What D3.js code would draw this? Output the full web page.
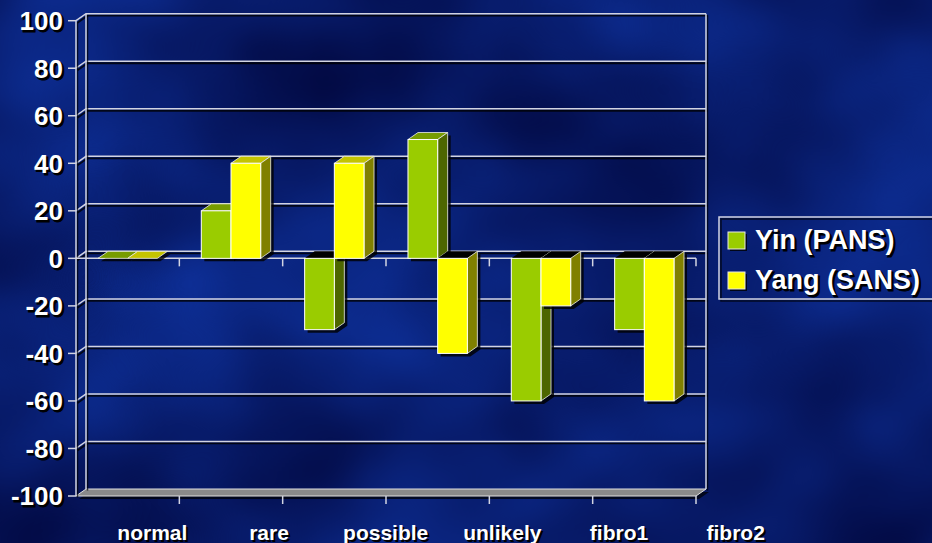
<!DOCTYPE html>
<html>
<head>
<meta charset="utf-8">
<script src="https://cdn.jsdelivr.net/npm/d3@7"></script>
<style>
  html, body { margin: 0; padding: 0; background: #0a1c6c; }
  svg { display: block; }
  text { font-family: "Liberation Sans", Arial, sans-serif; font-weight: bold; }
</style>
</head>
<body>
<div id="chart"></div>
<script>
// Chart data
const categories = ['normal', 'rare', 'possible', 'unlikely', 'fibro1', 'fibro2']
const seriesNames = ['Yin (PANS)', 'Yang (SANS)']
const yinValues = [0, 20, -30, 50, -60, -30]
const yangValues = [0, 40, 40, -40, -20, -60]
const yTicks = [100, 80, 60, 40, 20, 0, -20, -40, -60, -80, -100]

const width = 932
const height = 543
const depth = {dx: 10, dy: -7}

const style = {
  front: ['#9acc00', '#ffff00'],
  side: ['#4d6600', '#808000'],
  top: ['#779c00', '#c4c400'],
  grid: '#d2d4e2',
  text: '#ffffff'
}

const svg = d3.select('#chart')
  .append('svg')
  .attr('width', width)
  .attr('height', height)

// Cloudy blue background
const defs = svg.append('defs')
const cloud = defs.append('filter')
  .attr('id', 'cloud')
  .attr('x', 0).attr('y', 0).attr('width', '100%').attr('height', '100%')
  .attr('color-interpolation-filters', 'sRGB')
cloud.append('feTurbulence')
  .attr('type', 'fractalNoise')
  .attr('baseFrequency', '0.004 0.005')
  .attr('numOctaves', 3)
  .attr('seed', 11)
cloud.append('feColorMatrix')
  .attr('type', 'matrix')
  .attr('values', '0.06 0 0 0 0  0.2 0 0 0 0.01  0.45 0 0 0 0.2  0 0 0 0 1')

svg.append('rect')
  .attr('width', width).attr('height', height)
  .attr('fill', '#0a1c6c')
svg.append('rect')
  .attr('width', width).attr('height', height)
  .attr('filter', 'url(#cloud)')

// Scales
const x = d3.scaleBand().domain(categories).range([76, 696]).paddingInner(0).paddingOuter(0)
const xSub = d3.scaleBand().domain(seriesNames).range([0, x.bandwidth()]).paddingInner(0).paddingOuter(0.74)
const xLabel = d3.scaleBand().domain(categories).range([94, 794])
const y = d3.scaleLinear().domain([-100, 100]).range([496, 20.7])

const x0 = x.range()[0]
const x1 = x.range()[1]

// Floor
const gFloor = svg.append('g')
gFloor.append('polygon')
  .attr('points', [[x0 + 3, y(-100) + 3], [x1 + 3, y(-100) + 3], [x1 + depth.dx + 3, y(-100) + depth.dy + 3], [x0 + depth.dx + 3, y(-100) + depth.dy + 3]].join(' '))
  .attr('fill', '#000')
  .attr('opacity', 0.7)
gFloor.append('polygon')
  .attr('points', [[x0, y(-100)], [x1, y(-100)], [x1 + depth.dx, y(-100) + depth.dy], [x0 + depth.dx, y(-100) + depth.dy]].join(' '))
  .attr('fill', '#8a8a8a')
  .attr('stroke', '#e0e0e0')
  .attr('stroke-width', 1)

// Gridlines on back wall with shadow
const gridPath = t => d3.line()([[x0, y(t)], [x0 + depth.dx, y(t) + depth.dy], [x1 + depth.dx, y(t) + depth.dy]])
const gGrid = svg.append('g')
gGrid.selectAll('.grid-shadow')
  .data(yTicks.filter(t => t > -100))
  .join('path')
  .attr('class', 'grid-shadow')
  .attr('d', gridPath)
  .attr('transform', 'translate(1.5,2)')
  .attr('fill', 'none')
  .attr('stroke', '#000')
  .attr('stroke-opacity', 0.8)
  .attr('stroke-width', 1.8)
gGrid.selectAll('.grid')
  .data(yTicks.filter(t => t > -100))
  .join('path')
  .attr('class', 'grid')
  .attr('d', gridPath)
  .attr('fill', 'none')
  .attr('stroke', style.grid)
  .attr('stroke-width', 1.5)

// Wall edges
const wallLines = [
  [[x0 + depth.dx, y(100) + depth.dy], [x0 + depth.dx, y(-100) + depth.dy]],
  [[x1 + depth.dx, y(100) + depth.dy], [x1 + depth.dx, y(-100) + depth.dy]],
  [[x0, y(100)], [x0, y(-100)]]
]
gGrid.selectAll('.wall-shadow')
  .data(wallLines)
  .join('path')
  .attr('d', d => d3.line()(d))
  .attr('transform', 'translate(1.5,1.5)')
  .attr('stroke', '#000')
  .attr('stroke-opacity', 0.7)
  .attr('stroke-width', 1.5)
gGrid.selectAll('.wall')
  .data(wallLines)
  .join('path')
  .attr('d', d => d3.line()(d))
  .attr('stroke', style.grid)
  .attr('stroke-width', 1.5)

// Y axis ticks and labels
const gY = svg.append('g')
gY.selectAll('.ytick')
  .data(yTicks)
  .join('line')
  .attr('x1', x0 - 8).attr('x2', x0)
  .attr('y1', d => y(d)).attr('y2', d => y(d))
  .attr('stroke', style.grid)
  .attr('stroke-width', 1.5)
gY.selectAll('.ylabel-shadow')
  .data(yTicks)
  .join('text')
  .attr('x', 65).attr('y', d => y(d) + 2)
  .attr('dy', '0.36em')
  .attr('text-anchor', 'end')
  .style('font-size', '26px')
  .attr('fill', '#000')
  .attr('stroke', '#000')
  .attr('stroke-width', 0.8)
  .text(d => d)
gY.selectAll('.ylabel')
  .data(yTicks)
  .join('text')
  .attr('x', 63).attr('y', d => y(d))
  .attr('dy', '0.36em')
  .attr('text-anchor', 'end')
  .style('font-size', '26px')
  .attr('fill', style.text)
  .text(d => d)

// Category axis line at zero and ticks at zero and floor
const boundaries = categories.map(c => x(c) + x.bandwidth())
const gX = svg.append('g')
gX.append('line')
  .attr('x1', x0).attr('x2', x1)
  .attr('y1', y(0)).attr('y2', y(0))
  .attr('stroke', style.grid)
  .attr('stroke-width', 1.5)
;[0, -100].forEach(level => {
  gX.selectAll(null)
    .data(boundaries)
    .join('line')
    .attr('x1', d => d).attr('x2', d => d)
    .attr('y1', y(level)).attr('y2', y(level) + 8)
    .attr('stroke', style.grid)
    .attr('stroke-width', 1.5)
})

// Category labels
gX.selectAll('.xlabel-shadow')
  .data(categories)
  .join('text')
  .attr('x', d => xLabel(d) + xLabel.bandwidth() / 2 + 2)
  .attr('y', 542)
  .attr('text-anchor', 'middle')
  .style('font-size', '21px')
  .attr('fill', '#000')
  .text(d => d)
gX.selectAll('.xlabel')
  .data(categories)
  .join('text')
  .attr('x', d => xLabel(d) + xLabel.bandwidth() / 2)
  .attr('y', 540)
  .attr('text-anchor', 'middle')
  .style('font-size', '21px')
  .attr('fill', style.text)
  .text(d => d)

// 3D bars
const barData = []
categories.forEach((c, i) => {
  [yinValues[i], yangValues[i]].forEach((v, s) => {
    barData.push({cat: c, series: seriesNames[s], s: s, v: v})
  })
})

const gBars = svg.append('g')
barData.forEach(d => {
  const bx = x(d.cat) + xSub(d.series)
  const bw = xSub.bandwidth()
  const yTop = Math.min(y(d.v), y(0))
  const yBot = Math.max(y(d.v), y(0))
  const g = gBars.append('g').attr('class', 'bar')

  // drop shadow
  g.append('polygon')
    .attr('points', [[bx, yBot], [bx, yTop], [bx + depth.dx, yTop + depth.dy], [bx + bw + depth.dx, yTop + depth.dy], [bx + bw + depth.dx, yBot + depth.dy], [bx + bw, yBot]]
      .map(p => [p[0] + 3, p[1] + 3]).join(' '))
    .attr('fill', '#000')
    .attr('opacity', 0.8)

  // top face (black end face for negative bars)
  g.append('polygon')
    .attr('points', [[bx, yTop], [bx + depth.dx, yTop + depth.dy], [bx + bw + depth.dx, yTop + depth.dy], [bx + bw, yTop]].join(' '))
    .attr('fill', d.v < 0 ? '#000' : style.top[d.s])
    .attr('stroke', d.v < 0 ? 'none' : '#eeeeee')
    .attr('stroke-width', 0.8)

  if (yBot - yTop > 0) {
    // side face
    g.append('polygon')
      .attr('points', [[bx + bw, yTop], [bx + bw + depth.dx, yTop + depth.dy], [bx + bw + depth.dx, yBot + depth.dy], [bx + bw, yBot]].join(' '))
      .attr('fill', style.side[d.s])
      .attr('stroke', '#eeeeee')
      .attr('stroke-width', 0.8)
    // front face
    g.append('rect')
      .attr('x', bx).attr('y', yTop)
      .attr('width', bw).attr('height', yBot - yTop)
      .attr('fill', style.front[d.s])
      .attr('stroke', '#ffffff')
      .attr('stroke-width', 1)
  }
})

// Legend
const gLegend = svg.append('g')
gLegend.append('rect')
  .attr('x', 721).attr('y', 219)
  .attr('width', 240).attr('height', 82)
  .attr('fill', 'none')
  .attr('stroke', '#000')
  .attr('stroke-opacity', 0.7)
  .attr('stroke-width', 1.5)
gLegend.append('rect')
  .attr('x', 719).attr('y', 217)
  .attr('width', 240).attr('height', 82)
  .attr('fill', 'none')
  .attr('stroke', style.grid)
  .attr('stroke-width', 1.5)

const legendItems = gLegend.selectAll('.legend-item')
  .data(seriesNames)
  .join('g')
  .attr('class', 'legend-item')
  .attr('transform', (d, i) => `translate(728,${232 + i * 40})`)
legendItems.append('rect')
  .attr('x', 2).attr('y', 2)
  .attr('width', 17).attr('height', 17)
  .attr('fill', '#000')
  .attr('opacity', 0.8)
legendItems.append('rect')
  .attr('width', 17).attr('height', 17)
  .attr('fill', (d, i) => style.front[i])
  .attr('stroke', '#e8e8e8')
  .attr('stroke-width', 1)
legendItems.append('text')
  .attr('x', 29).attr('y', 19)
  .style('font-size', '27px')
  .attr('fill', '#000')
  .attr('stroke', '#000')
  .attr('stroke-width', 0.8)
  .text(d => d)
legendItems.append('text')
  .attr('x', 27).attr('y', 17)
  .style('font-size', '27px')
  .attr('fill', style.text)
  .text(d => d)
</script>
</body>
</html>
